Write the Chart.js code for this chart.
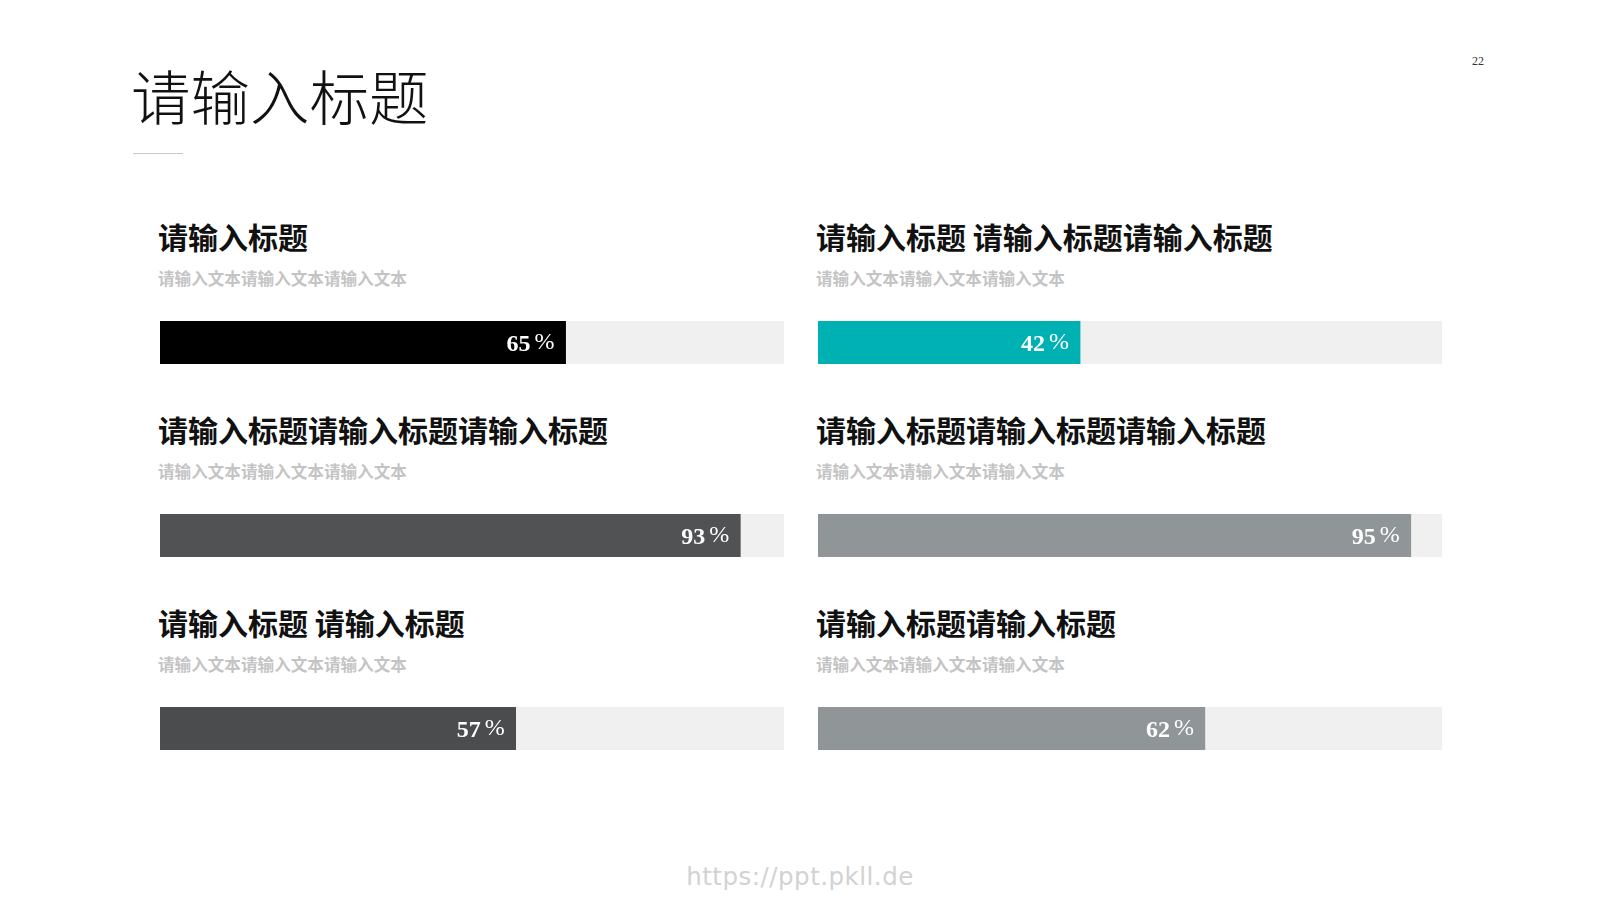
<!DOCTYPE html>
<html>
<head>
<meta charset="utf-8">
<script src="https://cdn.jsdelivr.net/npm/chart.js@4"></script>
<style>
  body { margin:0; width:1600px; height:900px; background:#fff; position:relative; overflow:hidden; font-family:"Noto Sans CJK SC", sans-serif; }
  .abs { position:absolute; white-space:nowrap; }
  .title { left:131px; top:59px; font-size:59.5px; line-height:70px; font-weight:300; color:#111; }
  .rule { left:133px; top:153px; width:50px; height:1px; background:#c8c8c8; }
  .pagenum { left:1472px; top:54px; font-family:"Liberation Serif", serif; font-size:12px; color:#333; }
  .head { font-size:30px; line-height:30px; font-weight:700; color:#111; }
  .sub { font-size:16.6px; line-height:17px; font-weight:700; color:#c4c4c4; }
  .bar { position:absolute; }
  .footer { left:0; width:1600px; top:862px; text-align:center; font-family:"DejaVu Sans", sans-serif; font-size:24.5px; color:#d2d2d2; letter-spacing:0.5px; }
</style>
</head>
<body>
<div class="abs title">请输入标题</div>
<div class="abs rule"></div>
<div class="abs pagenum">22</div>
<div id="blocks"></div>
<div class="abs footer">https://ppt.pkll.de</div>
<script>
const titles = [
  "请输入标题",
  "请输入标题 请输入标题请输入标题",
  "请输入标题请输入标题请输入标题",
  "请输入标题请输入标题请输入标题",
  "请输入标题 请输入标题",
  "请输入标题请输入标题"
];
const subtitles = [
  "请输入文本请输入文本请输入文本",
  "请输入文本请输入文本请输入文本",
  "请输入文本请输入文本请输入文本",
  "请输入文本请输入文本请输入文本",
  "请输入文本请输入文本请输入文本",
  "请输入文本请输入文本请输入文本"
];
const values = [65, 42, 93, 95, 57, 62];
const barColors = ["#000000", "#00b1b4", "#505253", "#909598", "#4a4c4d", "#909598"];
const trackColor = "#f0f0f0";

const colX = [160, 818];
const rowY = [221, 414, 607];

// value text drawn at the right end of the bar: bold digits, lighter "%"
const pctLabel = {
  id: 'pctLabel',
  afterDatasetsDraw(chart) {
    const el = chart.getDatasetMeta(0).data[0];
    const ctx = chart.ctx;
    ctx.save();
    ctx.fillStyle = '#ffffff';
    ctx.textBaseline = 'middle';
    ctx.textAlign = 'right';
    ctx.font = '24px "Liberation Serif", serif';
    const right = el.x - 11;
    ctx.fillText('%', right, el.y);
    const pw = ctx.measureText('%').width;
    ctx.font = 'bold 24px "Liberation Serif", serif';
    ctx.fillText(String(chart.data.datasets[0].data[0]), right - pw - 4, el.y + 2);
    ctx.restore();
  }
};

const blocks = document.getElementById('blocks');
values.forEach((v, i) => {
  const x = colX[i % 2];
  const y = rowY[Math.floor(i / 2)];
  const h = document.createElement('div');
  h.className = 'abs head';
  h.style.left = (x - 2) + 'px';
  h.style.top = y + 'px';
  h.textContent = titles[i];
  blocks.appendChild(h);
  const s = document.createElement('div');
  s.className = 'abs sub';
  s.style.left = (x - 2) + 'px';
  s.style.top = (y + 49) + 'px';
  s.textContent = subtitles[i];
  blocks.appendChild(s);
  const wrap = document.createElement('div');
  wrap.className = 'bar';
  wrap.style.left = x + 'px';
  wrap.style.top = (y + 100) + 'px';
  wrap.style.width = '624px';
  wrap.style.height = '43px';
  const cv = document.createElement('canvas');
  wrap.appendChild(cv);
  blocks.appendChild(wrap);

  new Chart(cv, {
    type: 'bar',
    data: {
      labels: [''],
      datasets: [
        { data: [v], backgroundColor: barColors[i], order: 0, grouped: false,
          barPercentage: 1, categoryPercentage: 1 },
        { data: [100], backgroundColor: trackColor, order: 1, grouped: false,
          barPercentage: 1, categoryPercentage: 1 }
      ]
    },
    plugins: [pctLabel],
    options: {
      indexAxis: 'y',
      responsive: true,
      maintainAspectRatio: false,
      animation: false,
      layout: { padding: 0 },
      plugins: { legend: { display: false }, tooltip: { enabled: false } },
      scales: {
        x: { display: false, min: 0, max: 100 },
        y: { display: false }
      }
    }
  });
});
</script>
</body>
</html>
